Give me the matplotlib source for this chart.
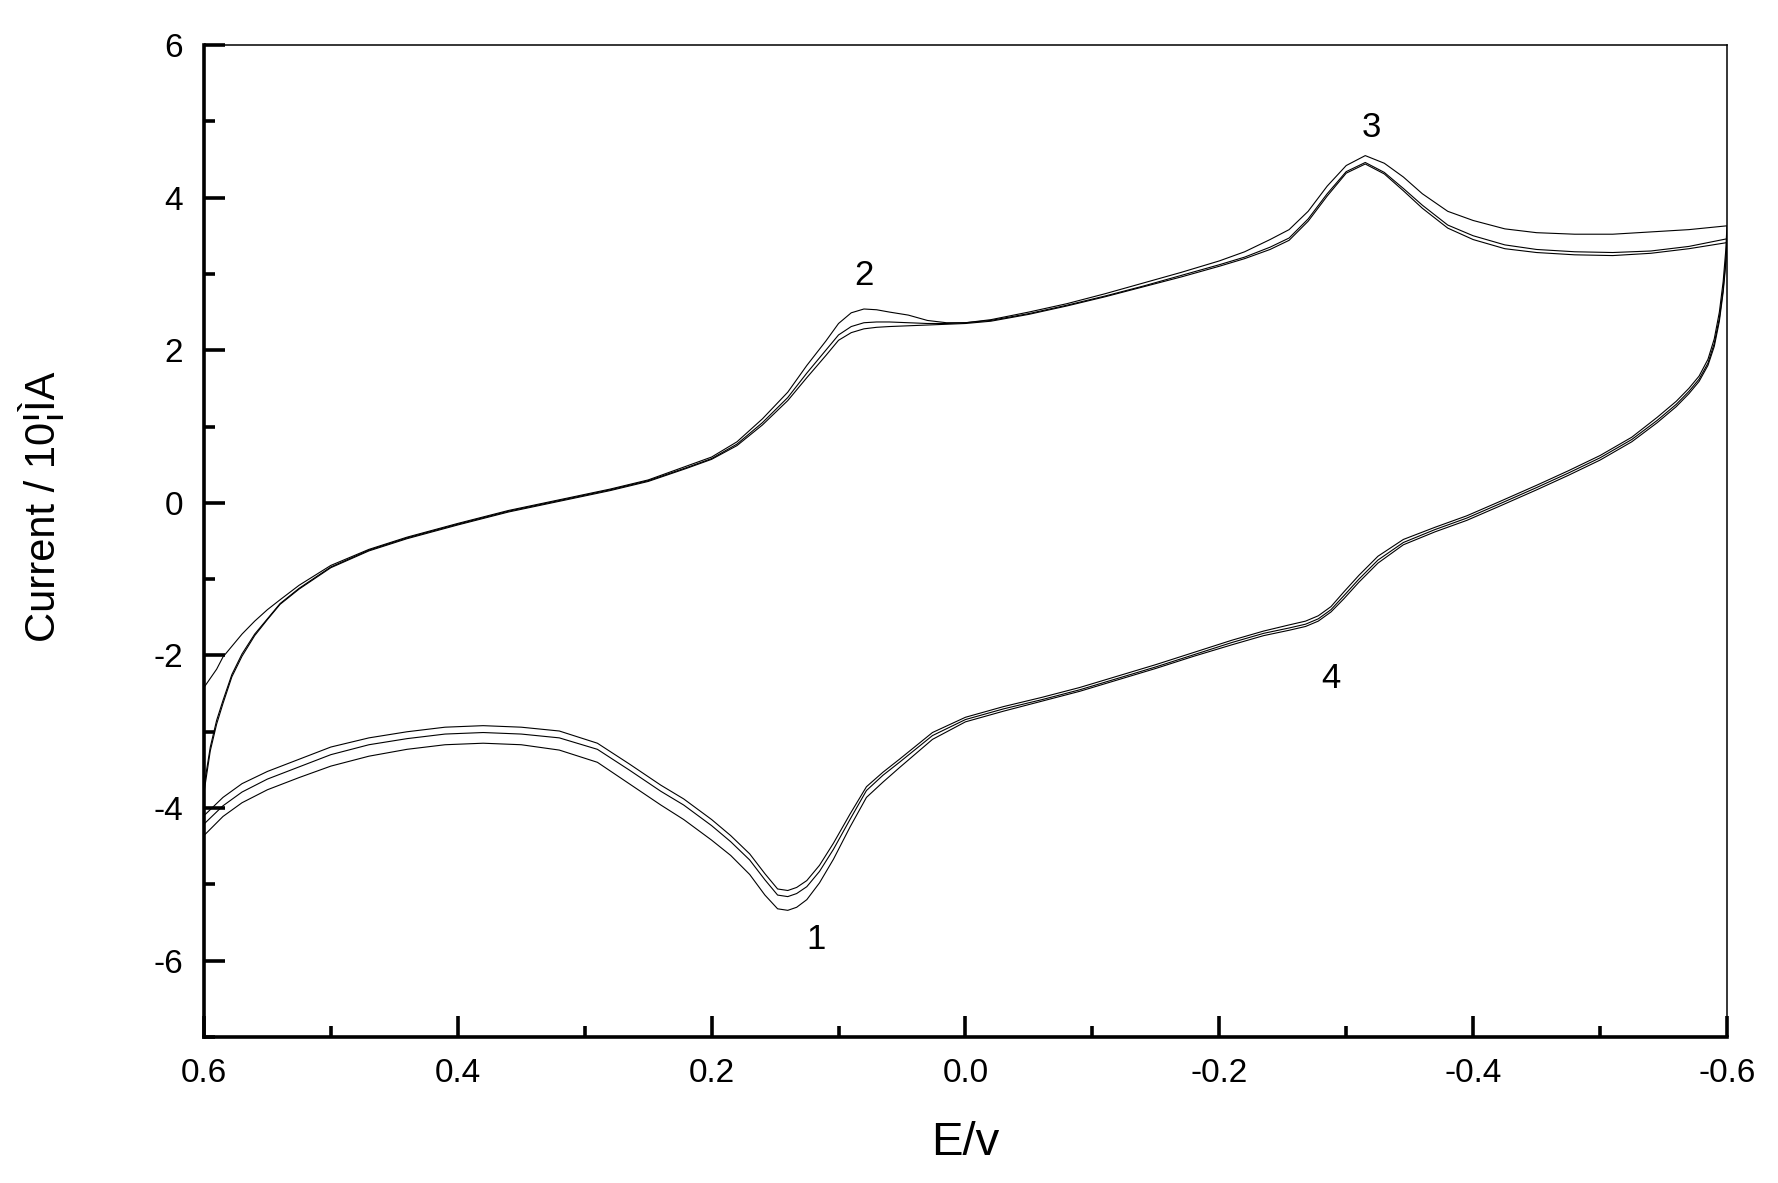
import matplotlib
matplotlib.use('Agg')
import matplotlib.pyplot as plt
from matplotlib.ticker import MultipleLocator, FormatStrFormatter

plt.rcParams['font.family'] = ['Liberation Sans', 'DejaVu Sans']
plt.rcParams['axes.unicode_minus'] = False

# ── forward sweep (0.6 -> -0.6 V), current / 10 uA ──────────────────────────
up_E = [0.600, 0.595, 0.590, 0.585, 0.578, 0.570, 0.560, 0.550, 0.540, 0.525,
        0.500, 0.470, 0.440, 0.400, 0.360, 0.320, 0.280, 0.250, 0.220, 0.200,
        0.180, 0.160, 0.140, 0.125, 0.110, 0.100, 0.090, 0.080, 0.070, 0.060,
        0.045, 0.030, 0.015, 0.000, -0.020, -0.050, -0.080, -0.110, -0.140, -0.170,
        -0.200, -0.220, -0.240, -0.255, -0.270, -0.285, -0.300, -0.315, -0.330, -0.345,
        -0.360, -0.380, -0.400, -0.425, -0.450, -0.480, -0.510, -0.540, -0.570, -0.600]

up_c1 = [-2.42, -2.30, -2.18, -2.02, -1.88, -1.72, -1.55, -1.40, -1.27, -1.08,
         -0.82, -0.61, -0.45, -0.27, -0.10, 0.04, 0.18, 0.30, 0.48, 0.60,
         0.80, 1.10, 1.45, 1.80, 2.12, 2.35, 2.49, 2.54, 2.53, 2.50,
         2.46, 2.39, 2.36, 2.36, 2.40, 2.50, 2.61, 2.74, 2.88, 3.02,
         3.17, 3.29, 3.45, 3.58, 3.82, 4.15, 4.42, 4.55, 4.45, 4.27,
         4.05, 3.82, 3.70, 3.59, 3.54, 3.52, 3.52, 3.55, 3.58, 3.63]

up_c2 = [-3.72, -3.20, -2.85, -2.59, -2.25, -1.98, -1.72, -1.52, -1.32, -1.12,
         -0.84, -0.62, -0.46, -0.28, -0.11, 0.03, 0.17, 0.29, 0.46, 0.58,
         0.77, 1.05, 1.38, 1.70, 2.00, 2.20, 2.31, 2.36, 2.37, 2.37,
         2.36, 2.35, 2.35, 2.36, 2.39, 2.48, 2.59, 2.71, 2.84, 2.98,
         3.12, 3.22, 3.35, 3.47, 3.72, 4.05, 4.34, 4.46, 4.33, 4.12,
         3.90, 3.64, 3.50, 3.38, 3.32, 3.29, 3.28, 3.30, 3.36, 3.46]

up_c3 = [-3.80, -3.25, -2.90, -2.63, -2.28, -2.01, -1.74, -1.53, -1.33, -1.13,
         -0.85, -0.63, -0.47, -0.29, -0.12, 0.02, 0.16, 0.28, 0.45, 0.57,
         0.75, 1.02, 1.34, 1.64, 1.93, 2.13, 2.23, 2.28, 2.30, 2.31,
         2.32, 2.33, 2.34, 2.35, 2.38, 2.47, 2.58, 2.70, 2.83, 2.96,
         3.10, 3.20, 3.32, 3.44, 3.69, 4.02, 4.32, 4.44, 4.31, 4.09,
         3.86, 3.60, 3.45, 3.33, 3.28, 3.25, 3.24, 3.27, 3.33, 3.41]

# ── reverse sweep (-0.6 -> 0.6 V) ───────────────────────────────────────────
dn_E = [-0.600, -0.599, -0.597, -0.594, -0.590, -0.585, -0.578, -0.570, -0.560, -0.545,
        -0.525, -0.500, -0.475, -0.450, -0.420, -0.395, -0.370, -0.345, -0.325, -0.310,
        -0.298, -0.288, -0.278, -0.268, -0.255, -0.235, -0.210, -0.180, -0.150, -0.120,
        -0.090, -0.060, -0.030, 0.000, 0.026, 0.052, 0.065, 0.078, 0.091, 0.104,
        0.115, 0.125, 0.133, 0.140, 0.148, 0.158, 0.170, 0.185, 0.200, 0.222,
        0.240, 0.265, 0.290, 0.320, 0.350, 0.380, 0.410, 0.440, 0.470, 0.500,
        0.525, 0.550, 0.570, 0.585, 0.600]

dn_c1 = [3.63, 3.30, 2.90, 2.50, 2.15, 1.88, 1.66, 1.50, 1.33, 1.12,
         0.86, 0.62, 0.42, 0.23, 0.01, -0.17, -0.32, -0.48, -0.70, -0.95,
         -1.17, -1.36, -1.48, -1.55, -1.60, -1.68, -1.80, -1.96, -2.12, -2.27,
         -2.42, -2.55, -2.67, -2.81, -3.01, -3.36, -3.53, -3.72, -4.08, -4.46,
         -4.75, -4.95, -5.04, -5.08, -5.06, -4.86, -4.60, -4.36, -4.15, -3.88,
         -3.70, -3.42, -3.15, -2.99, -2.94, -2.92, -2.94, -3.00, -3.08, -3.20,
         -3.36, -3.52, -3.68, -3.86, -4.10]

dn_c2 = [3.46, 3.16, 2.80, 2.42, 2.09, 1.83, 1.62, 1.46, 1.29, 1.08,
         0.83, 0.59, 0.39, 0.20, -0.02, -0.20, -0.35, -0.52, -0.75, -1.00,
         -1.22, -1.40, -1.52, -1.59, -1.64, -1.71, -1.83, -1.99, -2.15, -2.30,
         -2.45, -2.58, -2.70, -2.84, -3.05, -3.40, -3.57, -3.77, -4.15, -4.54,
         -4.83, -5.03, -5.12, -5.16, -5.14, -4.94, -4.68, -4.44, -4.23, -3.96,
         -3.78, -3.50, -3.23, -3.08, -3.03, -3.01, -3.03, -3.09, -3.17, -3.30,
         -3.46, -3.62, -3.79, -3.97, -4.21]

dn_c3 = [3.41, 3.12, 2.76, 2.38, 2.05, 1.80, 1.59, 1.43, 1.26, 1.05,
         0.80, 0.56, 0.36, 0.17, -0.05, -0.23, -0.38, -0.55, -0.79, -1.04,
         -1.26, -1.43, -1.55, -1.62, -1.67, -1.74, -1.86, -2.01, -2.17, -2.32,
         -2.47, -2.60, -2.73, -2.87, -3.10, -3.47, -3.66, -3.86, -4.25, -4.67,
         -4.98, -5.20, -5.30, -5.34, -5.32, -5.14, -4.87, -4.62, -4.42, -4.15,
         -3.96, -3.68, -3.40, -3.24, -3.17, -3.15, -3.17, -3.23, -3.32, -3.45,
         -3.60, -3.76, -3.93, -4.11, -4.36]

# peak labels
peak_lbl = ['1', '2', '3', '4']
peak_E   = [0.118, 0.080, -0.320, -0.288]
peak_I   = [-5.72, 2.98, 4.92, -2.30]

# ── figure ──────────────────────────────────────────────────────────────────
fig = plt.figure(figsize=(17.78, 11.83), dpi=100)
ax = fig.add_axes([0.1147, 0.1234, 0.8566, 0.8386])

for up_I, dn_I in [(up_c1, dn_c1), (up_c2, dn_c2), (up_c3, dn_c3)]:
    ax.plot(up_E + dn_E, up_I + dn_I, color='black', lw=0.8)

for lbl, e, i in zip(peak_lbl, peak_E, peak_I):
    ax.text(e, i, lbl, fontsize=25, ha='center', va='center')

ax.set_xlim(0.6, -0.6)
ax.set_ylim(-7, 6)
ax.xaxis.set_major_locator(MultipleLocator(0.2))
ax.xaxis.set_minor_locator(MultipleLocator(0.1))
ax.xaxis.set_major_formatter(FormatStrFormatter('%.1f'))
ax.yaxis.set_major_locator(MultipleLocator(2))
ax.yaxis.set_minor_locator(MultipleLocator(1))

ax.tick_params(which='both', direction='in', top=False, right=False,
               width=2.6, labelsize=24, pad=15)
ax.tick_params(which='major', length=15)
ax.tick_params(which='minor', length=8)
for side in ['left', 'bottom']:
    ax.spines[side].set_linewidth(2.6)
for side in ['top', 'right']:
    ax.spines[side].set_linewidth(1.1)

ax.set_xlabel('E/v', fontsize=34)
ax.set_ylabel('Current / 10¦ÌA', fontsize=30)
ax.xaxis.set_label_coords(0.5, -0.085)
ax.yaxis.set_label_coords(-0.092, 0.534)

plt.savefig('out.png', dpi=100)
plt.close()
print('Saved out.png')
